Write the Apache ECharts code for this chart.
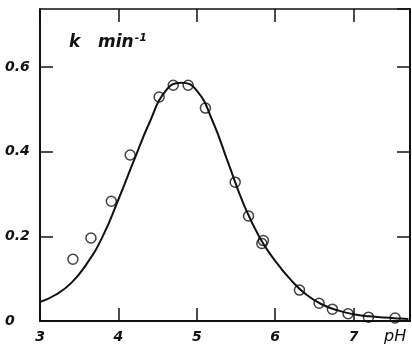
<!DOCTYPE html>
<html>
<head>
<meta charset="utf-8">
<style>
html,body{margin:0;padding:0;background:#fff;}
#chart{width:412px;height:346px;}
</style>
<script src="https://cdn.jsdelivr.net/npm/echarts@6/dist/echarts.min.js"></script>
</head>
<body>
<div id="chart"></div>
<script>
// Measured points (open circles)
var pointPH = [3.42, 3.65, 3.91, 4.15, 4.52, 4.70, 4.89, 5.11, 5.49, 5.66, 5.83, 5.85, 6.31, 6.56, 6.73, 6.93, 7.19, 7.53];
var pointK  = [0.146, 0.196, 0.283, 0.392, 0.529, 0.557, 0.557, 0.503, 0.328, 0.248, 0.183, 0.190, 0.073, 0.042, 0.028, 0.017, 0.009, 0.007];
// Fitted curve (at roughly even pH steps)
var curvePH = [3.0, 3.2, 3.4, 3.6, 3.8, 4.0, 4.2, 4.4, 4.6, 4.8, 5.0, 5.2, 5.4, 5.6, 5.8, 6.0, 6.2, 6.4, 6.6, 6.8, 7.0, 7.2, 7.4, 7.6, 7.7];
var curveK  = [0.045, 0.062, 0.090, 0.136, 0.200, 0.287, 0.380, 0.470, 0.543, 0.563, 0.544, 0.473, 0.374, 0.275, 0.198, 0.142, 0.097, 0.062, 0.039, 0.025, 0.016, 0.011, 0.008, 0.006, 0.005];
var xTicks = [3, 4, 5, 6, 7];
var yTicks = [0, 0.2, 0.4, 0.6];
var xName = 'pH';
var yNameMain = 'k   min';
var yNameSup = '-1';

var xMin = 3, xMax = 7.72, yMin = 0, yMax = 0.737;

function pairs(a, b) { return a.map(function (v, i) { return [v, b[i]]; }); }

var labelFont = {
  fontFamily: 'DejaVu Sans', fontWeight: 'bold', fontStyle: 'italic', fontSize: 14, color: '#111'
};

var chart = echarts.init(document.getElementById('chart'), null, {renderer: 'canvas'});
function axLine(w) { return {show: true, onZero: false, lineStyle: {color: '#111', width: w}}; }
var tick = {show: true, inside: true, length: 13, lineStyle: {color: '#111', width: 1.5}};

chart.setOption({
  backgroundColor: '#fff',
  animation: false,
  grid: {left: 40, right: 2, top: 9, bottom: 25},
  xAxis: [{
    type: 'value', position: 'bottom', min: xMin, max: xMax, interval: 1,
    axisLine: axLine(2), axisTick: tick, splitLine: {show: false},
    axisLabel: Object.assign({
      margin: 9, showMaxLabel: false,
      formatter: function (v) { return xTicks.indexOf(Math.round(v * 100) / 100) >= 0 ? String(v) : ''; }
    }, labelFont)
  }, {
    type: 'value', position: 'top', min: xMin, max: xMax, interval: 1,
    axisLine: axLine(1.5), axisTick: tick,
    axisLabel: {show: false}, splitLine: {show: false}
  }],
  yAxis: [{
    type: 'value', position: 'left', min: yMin, max: yMax, interval: 0.2,
    axisLine: axLine(2), axisTick: tick, splitLine: {show: false},
    axisLabel: Object.assign({
      margin: 35, align: 'left', showMaxLabel: false,
      formatter: function (v) {
        var r = Math.round(v * 10) / 10;
        return yTicks.indexOf(r) >= 0 && Math.abs(r - v) < 1e-6 ? (r === 0 ? '0' : r.toFixed(1)) : '';
      }
    }, labelFont)
  }, {
    type: 'value', position: 'right', min: yMin, max: yMax, interval: 0.2,
    axisLine: axLine(2), axisTick: tick, axisLabel: {show: false}, splitLine: {show: false}
  }],
  graphic: [{
    type: 'text', left: 384, top: 329,
    style: {text: xName, fontFamily: 'DejaVu Sans', fontStyle: 'italic', fontSize: 16, fill: '#111', letterSpacing: 3}
  }, {
    type: 'text', left: 69, top: 33,
    style: {
      text: '{a|' + yNameMain + '}{s|' + yNameSup + '}',
      rich: {
        a: {fontFamily: 'DejaVu Sans', fontWeight: 'bold', fontStyle: 'italic', fontSize: 17, fill: '#111', lineHeight: 20},
        s: {fontFamily: 'DejaVu Sans', fontWeight: 'bold', fontStyle: 'italic', fontSize: 11, fill: '#111', lineHeight: 20, verticalAlign: 'top', padding: [0, 0, 8, 1]}
      }
    }
  }],
  series: [{
    type: 'line', data: pairs(curvePH, curveK), smooth: 0.5, showSymbol: false,
    lineStyle: {color: '#111', width: 2}, z: 2
  }, {
    type: 'scatter', data: pairs(pointPH, pointK), symbol: 'circle', symbolSize: 10,
    itemStyle: {color: 'rgba(255,255,255,0)', borderColor: '#111', borderWidth: 1.5}, z: 3
  }]
});
</script>
</body>
</html>
